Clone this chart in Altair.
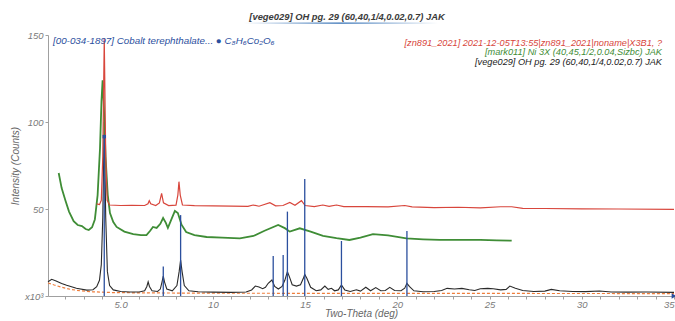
import altair as alt
import pandas as pd

# ---------------- data ----------------
BLACK = [(1.06, 8.2), (1.26, 9.6), (1.5, 8.6), (1.8, 7.2), (2.07, 6.2), (2.6, 4.5), (3.16, 3.4), (3.5, 3.6),
         (3.7, 5.4), (3.85, 9), (3.95, 18), (4.03, 45), (4.11, 100), (4.19, 45), (4.28, 14), (4.4, 6),
         (4.6, 3.5), (5.0, 2.6), (5.5, 2.3), (6.0, 2.3), (6.3, 3), (6.42, 5.5), (6.49, 8.2), (6.56, 5.5),
         (6.7, 3), (7.0, 2.6), (7.15, 4), (7.24, 8), (7.31, 11.5), (7.38, 8), (7.5, 4), (7.8, 3), (8.05, 6),
         (8.17, 14), (8.25, 20.7), (8.33, 14), (8.45, 6), (8.7, 3), (9.2, 2.4), (10.0, 2.2), (11.0, 2.1),
         (11.8, 2.3), (12.1, 3.5), (12.3, 5.7), (12.5, 5.2), (12.7, 4.2), (12.85, 5), (13.0, 7.3), (13.2, 9.2),
         (13.35, 5.5), (13.55, 4), (13.75, 5.5), (13.9, 9), (14.04, 14), (14.15, 11), (14.3, 6.5), (14.53, 5.7),
         (14.75, 6.5), (14.9, 10), (14.98, 12.4), (15.1, 10), (15.3, 5), (15.6, 3), (15.85, 3.5), (16.07, 5.7),
         (16.25, 3.8), (16.43, 4.4), (16.6, 3), (16.8, 3.5), (16.97, 6.3), (17.15, 3.5), (17.45, 2.6),
         (17.78, 3.6), (18.0, 2.8), (18.29, 5), (18.55, 3), (18.83, 4.8), (19.1, 3), (19.35, 3.2), (19.59, 5),
         (19.85, 3.2), (20.2, 3), (20.4, 4.5), (20.52, 7.3), (20.65, 5.5), (20.9, 3), (21.4, 2.4), (22.0, 2.6),
         (22.4, 3.2), (22.7, 4.4), (23.1, 4), (23.5, 4.4), (23.9, 3.6), (24.2, 3.2), (24.5, 4.2), (24.9, 4.4),
         (25.2, 4.2), (25.6, 3.5), (25.9, 3.8), (26.1, 5.7), (26.4, 4.5), (26.8, 3.2), (27.4, 2.6), (28.0, 2.8),
         (28.35, 3.8), (28.8, 3), (29.5, 2.6), (30.2, 2.5), (30.96, 2.9), (31.6, 2.3), (32.5, 2.2), (33.5, 2.3),
         (35.0, 2.1)]

BACKGROUND = [(1.06, 7.5), (1.4, 6.3), (1.8, 5), (2.3, 3.8), (2.8, 3), (3.5, 2.4), (4.5, 2), (6, 1.8),
              (10, 1.6), (20, 1.5), (35, 1.4)]

GREEN = [(1.64, 70.7), (1.8, 62), (2.0, 55), (2.2, 48.5), (2.45, 43), (2.67, 40.8), (2.9, 40.2), (3.1, 38.5),
         (3.27, 37.9), (3.45, 39.5), (3.6, 44), (3.75, 58), (3.88, 85), (3.96, 112), (4.02, 124), (4.08, 112),
         (4.18, 80), (4.3, 58), (4.42, 47.7), (4.6, 42.5), (4.78, 39.7), (5.2, 37), (5.68, 35.6), (6.1, 35),
         (6.4, 35), (6.6, 37.5), (6.75, 39.7), (6.95, 39.1), (7.15, 41.5), (7.3, 44.8), (7.45, 42), (7.56, 39.1),
         (7.75, 44), (7.94, 48.9), (8.1, 47.7), (8.3, 41), (8.55, 36.8), (9.0, 35), (9.66, 33.9), (10.5, 33.5),
         (11.46, 33.1), (12.2, 34.5), (12.8, 37.5), (13.54, 40.8), (13.9, 39), (14.17, 37), (14.71, 38.9),
         (15.3, 37), (15.97, 34.5), (16.7, 33.2), (17.4, 32.2), (18.0, 33.5), (18.68, 35.6), (19.5, 34.8),
         (20.49, 33.1), (21.4, 32.6), (22.3, 32.2), (23.5, 32.3), (24.5, 32.2), (25.4, 32), (26.2, 31.8)]

RED = [(3.7, 52.9), (3.85, 52.5), (3.95, 55), (4.03, 80), (4.11, 148), (4.19, 80), (4.27, 55), (4.4, 52.3),
       (5.0, 52), (5.6, 52.1), (6.3, 52), (6.48, 53), (6.55, 54.8), (6.63, 53), (6.9, 52), (7.1, 53.5),
       (7.22, 59), (7.32, 53.5), (7.6, 52), (8.0, 52.2), (8.1, 58), (8.16, 65.7), (8.23, 58), (8.35, 52.3),
       (9, 51.9), (10, 51.8), (11, 51.6), (11.9, 51.5), (12.18, 52.3), (12.5, 51.6), (13.09, 53.6),
       (13.4, 51.8), (13.8, 52), (14.17, 53.8), (14.45, 52.2), (14.8, 54.8), (15.0, 52), (15.5, 51.4),
       (15.96, 52.3), (16.3, 51.5), (16.7, 52.3), (17.1, 51.4), (18.3, 51.4), (19.5, 51.2), (20.4, 52),
       (20.8, 51.2), (22, 50.8), (23.3, 51), (24.5, 50.6), (25.6, 51.3), (26.2, 51.3), (26.8, 50.4),
       (28, 50.3), (30, 50.1), (32, 50), (35, 49.8)]

STICK_POS = [4.11, 7.31, 8.25, 13.27, 13.81, 14.04, 14.98, 16.97, 20.52]
STICK_INT = [91.6, 16.9, 46.5, 23.0, 23.6, 48.5, 67.2, 31.6, 37.4]

TITLE = "[vege029] OH pg. 29 (60,40,1/4,0.02,0.7) JAK"
CARD_LABEL = "[00-034-1897] Cobalt terephthalate... \u25cf C\u2088H\u2086Co\u2082O\u2086"
SCAN_LABELS = ["[zn891_2021] 2021-12-05T13:55|zn891_2021|noname|X3B1, ?",
               "[mark011] Ni 3X (40,45,1/2,0.04,Sizbc) JAK",
               "[vege029] OH pg. 29 (60,40,1/4,0.02,0.7) JAK"]

C_RED, C_GREEN, C_BLACK, C_BLUE, C_ORANGE = "#d8463c", "#3f8d36", "#2a2a2a", "#2b4f9e", "#ef7d3b"
FONT = "Liberation Sans"


def frame(pts):
    return pd.DataFrame(pts, columns=["tt", "cnt"])


xs = alt.Scale(domain=[1.06, 35], nice=False, zero=False)
ys = alt.Scale(domain=[0, 150], nice=False)
X = alt.X("tt:Q", scale=xs, axis=alt.Axis(
    values=list(range(2, 36)), format="d",
    labelExpr="datum.value % 5 == 0 ? (datum.value == 5 ? '5.0' : datum.label) : ''",
    title="Two-Theta (deg)", labelOverlap=False, grid=False))
Y = alt.Y("cnt:Q", scale=ys, axis=alt.Axis(
    values=[0, 50, 100, 150], labelExpr="datum.value == 0 ? 'x10\u00b3' : datum.label",
    title="Intensity (Counts)", grid=False))

bg = alt.Chart(frame(BACKGROUND)).mark_line(color=C_ORANGE, strokeWidth=1.2, strokeDash=[3, 2]).encode(x=X, y=Y)
black = alt.Chart(frame(BLACK)).mark_line(color=C_BLACK, strokeWidth=1.1).encode(x=X, y=Y)
green = alt.Chart(frame(GREEN)).mark_line(color=C_GREEN, strokeWidth=1.8).encode(x=X, y=Y)
red = alt.Chart(frame(RED)).mark_line(color=C_RED, strokeWidth=1.2).encode(x=X, y=Y)

sticks_df = pd.DataFrame({"tt": STICK_POS, "cnt": STICK_INT})
sticks = alt.Chart(sticks_df).mark_rule(color=C_BLUE, strokeWidth=1.3).encode(
    x=X, y=Y, y2=alt.datum(0))
top_mark = alt.Chart(sticks_df.iloc[[0]]).mark_point(
    shape="square", filled=True, color=C_BLUE, size=12, opacity=1).encode(x=X, y=Y)
end_mark = alt.Chart(pd.DataFrame({"tt": [35], "cnt": [0]})).mark_point(
    shape="triangle-right", filled=True, color=C_BLUE, size=30, opacity=1).encode(x=X, y=Y)

one = alt.Data(values=[{}])
underline = alt.Chart(one).mark_rect(
    fill=alt.LinearGradient(gradient="linear", x1=0, x2=1, y1=0, y2=0,
                            stops=[alt.GradientStop(color="#ffffff", offset=0),
                                   alt.GradientStop(color="#2f6db3", offset=0.5),
                                   alt.GradientStop(color="#ffffff", offset=1)])
).encode(x=alt.value(196), x2=alt.value(390), y=alt.value(-12.6), y2=alt.value(-11.2))

card = alt.Chart(one).mark_text(
    align="left", baseline="middle", font=FONT, fontStyle="italic", fontSize=9.8, color=C_BLUE
).encode(x=alt.value(5), y=alt.value(6), text=alt.value(CARD_LABEL))

scan_texts = []
for lab, col, yy in zip(SCAN_LABELS, [C_RED, C_GREEN, "#222222"], [8.0, 17.4, 26.8]):
    scan_texts.append(alt.Chart(one).mark_text(
        align="right", baseline="middle", font=FONT, fontStyle="italic", fontSize=9.2, color=col
    ).encode(x=alt.value(614), y=alt.value(yy), text=alt.value(lab)))

chart = alt.layer(bg, black, green, red, sticks, top_mark, end_mark, underline, card, *scan_texts).properties(
    width=626, height=261,
    autosize=alt.AutoSizeParams(type="none"),
    padding={"left": 48, "top": 35, "right": 1, "bottom": 25},
    title=alt.TitleParams(TITLE, font=FONT, fontSize=9.4, fontWeight="bold", fontStyle="italic",
                          color="#3a3a3a", anchor="middle", frame="group", dx=-14, dy=14, offset=14),
).configure_view(stroke=None).configure_axis(
    domainColor="#a0a0a0", tickColor="#a0a0a0", tickSize=3,
    labelColor="#7a7a7a", labelFont=FONT, labelFontStyle="italic", labelFontSize=9.5,
    titleColor="#666666", titleFont=FONT, titleFontStyle="italic", titleFontWeight="normal", titleFontSize=10,
).configure_axisX(labelPadding=0, titlePadding=0).configure_axisY(labelPadding=2, titlePadding=4)

chart.save("out.html", embed_options={"renderer": "svg", "actions": False})
